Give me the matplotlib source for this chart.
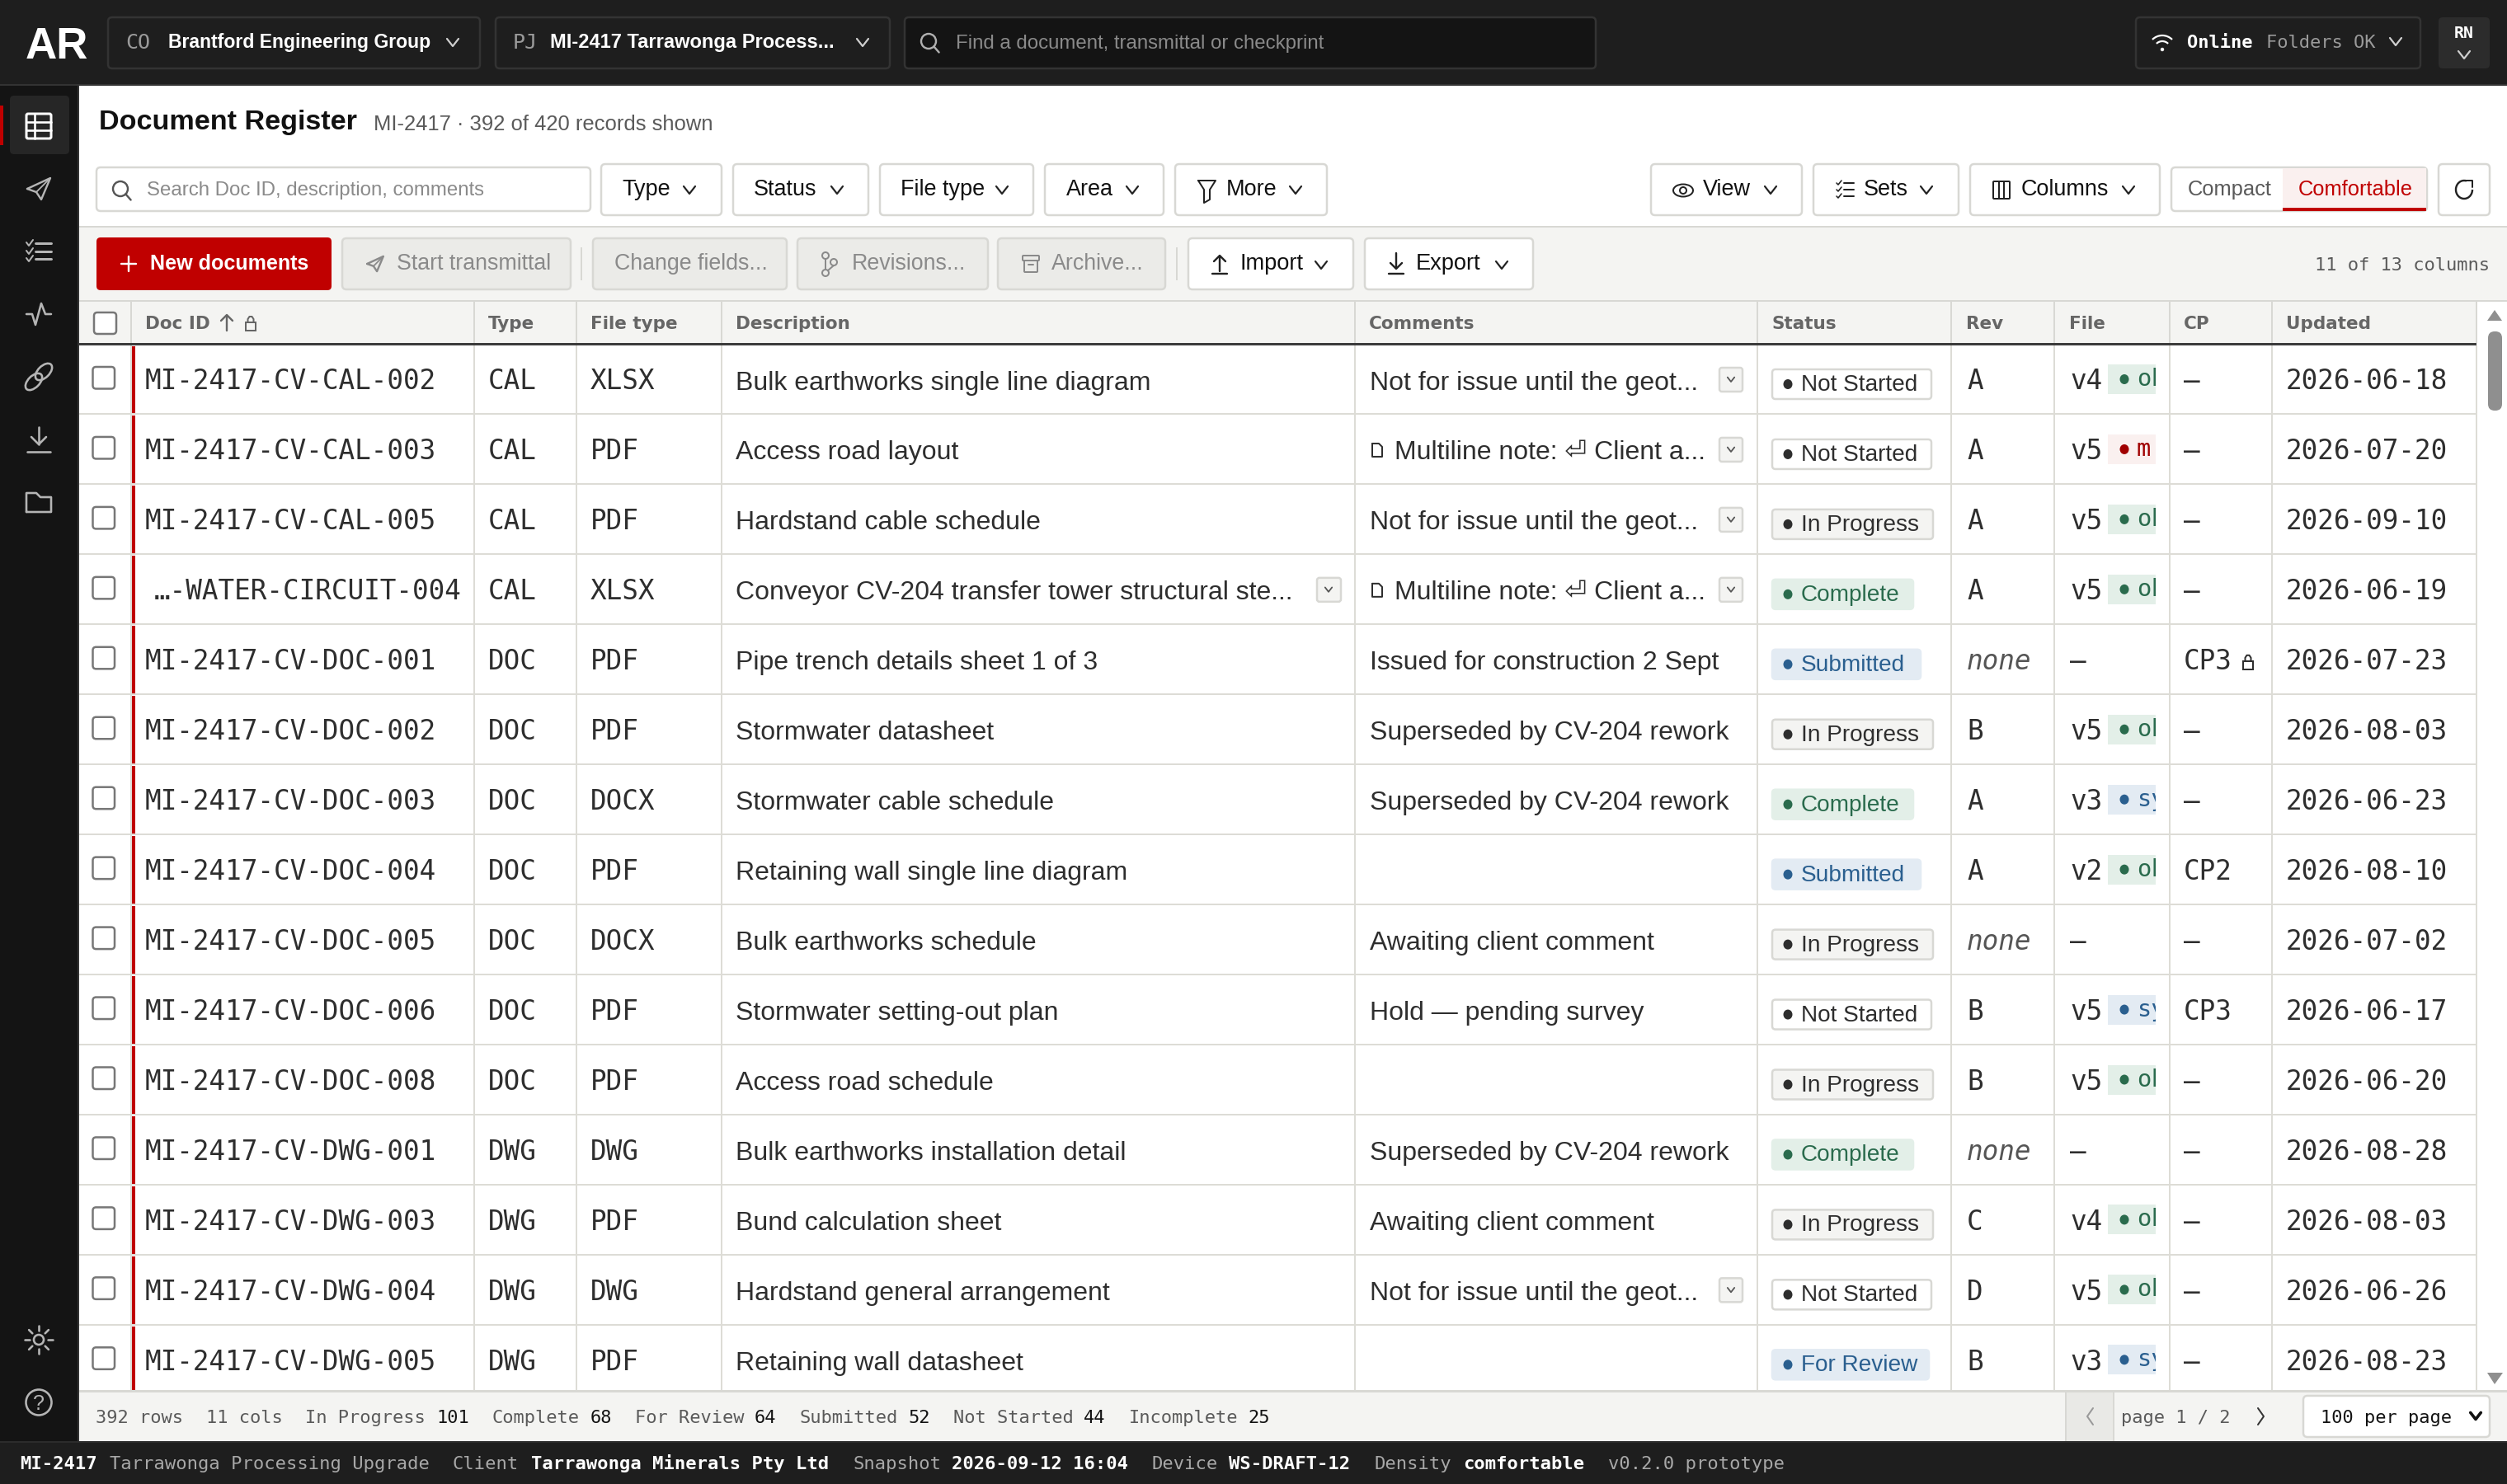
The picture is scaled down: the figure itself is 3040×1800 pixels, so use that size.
import matplotlib
matplotlib.use('Agg')
import matplotlib.pyplot as plt
from matplotlib.patches import FancyBboxPatch, Rectangle, Circle, Ellipse, Polygon, Arc

# table content
doc_ids = ['MI-2417-CV-CAL-002', 'MI-2417-CV-CAL-003', 'MI-2417-CV-CAL-005', '…-WATER-CIRCUIT-004',
           'MI-2417-CV-DOC-001', 'MI-2417-CV-DOC-002', 'MI-2417-CV-DOC-003', 'MI-2417-CV-DOC-004',
           'MI-2417-CV-DOC-005', 'MI-2417-CV-DOC-006', 'MI-2417-CV-DOC-008', 'MI-2417-CV-DWG-001',
           'MI-2417-CV-DWG-003', 'MI-2417-CV-DWG-004', 'MI-2417-CV-DWG-005']
doc_types = ['CAL', 'CAL', 'CAL', 'CAL', 'DOC', 'DOC', 'DOC', 'DOC', 'DOC', 'DOC', 'DOC', 'DWG', 'DWG', 'DWG', 'DWG']
file_types = ['XLSX', 'PDF', 'PDF', 'XLSX', 'PDF', 'PDF', 'DOCX', 'PDF', 'DOCX', 'PDF', 'PDF', 'DWG', 'PDF', 'DWG', 'PDF']
descriptions = ['Bulk earthworks single line diagram', 'Access road layout', 'Hardstand cable schedule',
                'Conveyor CV-204 transfer tower structural ste...', 'Pipe trench details sheet 1 of 3',
                'Stormwater datasheet', 'Stormwater cable schedule', 'Retaining wall single line diagram',
                'Bulk earthworks schedule', 'Stormwater setting-out plan', 'Access road schedule',
                'Bulk earthworks installation detail', 'Bund calculation sheet', 'Hardstand general arrangement',
                'Retaining wall datasheet']
NOTE_GEOT = 'Not for issue until the geot...'
NOTE_MULTI = 'Multiline note: ⏎ Client a...'
NOTE_SUPER = 'Superseded by CV-204 rework'
comments = [NOTE_GEOT, NOTE_MULTI, NOTE_GEOT, NOTE_MULTI, 'Issued for construction 2 Sept', NOTE_SUPER, NOTE_SUPER,
            '', 'Awaiting client comment', 'Hold — pending survey', '', NOTE_SUPER, 'Awaiting client comment',
            NOTE_GEOT, '']
statuses = ['Not Started', 'Not Started', 'In Progress', 'Complete', 'Submitted', 'In Progress', 'Complete', 'Submitted',
            'In Progress', 'Not Started', 'In Progress', 'Complete', 'In Progress', 'Not Started', 'For Review']
revs = ['A', 'A', 'A', 'A', 'none', 'B', 'A', 'A', 'none', 'B', 'B', 'none', 'C', 'D', 'B']
file_vers = ['v4', 'v5', 'v5', 'v5', '—', 'v5', 'v3', 'v2', '—', 'v5', 'v5', '—', 'v4', 'v5', 'v3']
# only what shows inside the clipped badge
file_states = ['ok', 'm', 'ok', 'ok', '', 'ok', 'sy', 'ok', '', 'sy', 'ok', '', 'ok', 'ok', 'sy']
checkprints = ['—', '—', '—', '—', 'CP3', '—', '—', 'CP2', '—', 'CP3', '—', '—', '—', '—', '—']
cp_locked = [False, False, False, False, True, False, False, False, False, False, False, False, False, False, False]
updated = ['2026-06-18', '2026-07-20', '2026-09-10', '2026-06-19', '2026-07-23', '2026-08-03', '2026-06-23', '2026-08-10',
           '2026-07-02', '2026-06-17', '2026-06-20', '2026-08-28', '2026-08-03', '2026-06-26', '2026-08-23']

# status bar and footer
count_names = ['In Progress', 'Complete', 'For Review', 'Submitted', 'Not Started', 'Incomplete']
count_values = [101, 68, 64, 52, 44, 25]
footer_parts = [('MI-2417', True, 24), ('Tarrawonga Processing Upgrade', False, 133), ('Client', False, 549),
                ('Tarrawonga Minerals Pty Ltd', True, 644), ('Snapshot', False, 1034), ('2026-09-12 16:04', True, 1154),
                ('Device', False, 1397), ('WS-DRAFT-12', True, 1490), ('Density', False, 1666),
                ('comfortable', True, 1774), ('v0.2.0 prototype', False, 1950)]

# column lines and header labels
col_lines = [159, 575, 699, 875, 1643, 2131, 2366, 2491, 2631, 2755, 3003]
col_names = ['Doc ID', 'Type', 'File type', 'Description', 'Comments', 'Status', 'Rev', 'File', 'CP', 'Updated']
col_text_x = [176, 592, 716, 892, 1660, 2148, 2384, 2509, 2648, 2772]

# colours
TOP = '#1e1e1e'
SIDE = '#141414'
LINE = '#dddcd6'
PANEL = '#f4f4f2'
RED = '#c00000'
INK = '#111111'
CELL = '#2e2e2e'
GREY = '#8a8a8a'
MID = '#5a5a5a'
pill_styles = {'Not Started': ('#ffffff', '#d8d8d4', '#2e2e2e', 193),
               'In Progress': ('#f4f4f2', '#d8d8d4', '#2e2e2e', 195),
               'Complete': ('#e3efe8', '#e3efe8', '#2a6b4d', 171),
               'Submitted': ('#e3ebf3', '#e3ebf3', '#2a5f8f', 180),
               'For Review': ('#e3ebf3', '#e3ebf3', '#2a5f8f', 190)}
file_styles = {'ok': ('#e3efe8', '#2a6b4d'), 'sy': ('#e3ebf3', '#2a5f8f'), 'm': ('#faf0ef', '#a00000')}

SANS = ['Liberation Sans', 'DejaVu Sans']
MONO = ['DejaVu Sans Mono']
PT = 0.36  # 1 px of the picture in points at dpi 200

fig = plt.figure(figsize=(15.2, 9), dpi=200, facecolor='white')
ax = fig.add_axes([0, 0, 1, 1])
ax.set_xlim(0, 3040)
ax.set_ylim(1800, 0)
ax.axis('off')


def rect(x0, y0, x1, y1, color):
    ax.add_patch(Rectangle((x0, y0), x1 - x0, y1 - y0, facecolor=color, edgecolor='none'))


def box(x0, y0, x1, y1, face, edge=None, r=5, lw=2.5):
    p = FancyBboxPatch((x0, y0), x1 - x0, y1 - y0, boxstyle='round,pad=0,rounding_size=%g' % r,
                       facecolor=face, edgecolor=edge or 'none', linewidth=lw * PT)
    ax.add_patch(p)
    return p


def line(pts, color, lw=2.4, closed=False):
    if closed:
        pts = list(pts) + [pts[0]]
    ax.plot([p[0] for p in pts], [p[1] for p in pts], color=color, lw=lw * PT,
            solid_capstyle='round', solid_joinstyle='round')


def label(x, y, s, px, color=INK, font=SANS, **kw):
    return ax.text(x, y, s, fontsize=px * PT, color=color, family=font, va='baseline', ha=kw.pop('ha', 'left'), **kw)


def chevron(x, y, color, s=1.0, lw=2.2):
    line([(x - 7 * s, y - 4 * s), (x, y + 5 * s), (x + 7 * s, y - 4 * s)], color, lw)


def search_icon(x, y, color, r=9):
    ax.add_patch(Circle((x, y), r, fill=False, edgecolor=color, linewidth=2.4 * PT))
    line([(x + r * 0.7, y + r * 0.7), (x + r * 1.4, y + r * 1.5)], color)


def send_icon(x, y, color, s=1.0):
    line([(x - 14 * s, y), (x + 14 * s, y - 13 * s), (x + 3 * s, y + 13 * s), (x - 3 * s, y + 4 * s)], color, closed=True)
    line([(x - 3 * s, y + 4 * s), (x + 14 * s, y - 13 * s)], color, 1.8)


def lock_icon(x, y, color):
    ax.add_patch(Rectangle((x - 6, y - 1), 12, 10, fill=False, edgecolor=color, linewidth=2 * PT))
    line([(x - 3.5, y - 1), (x - 3.5, y - 5), (x - 1.5, y - 8), (x + 1.5, y - 8), (x + 3.5, y - 5), (x + 3.5, y - 1)], color, 2)


def arrow_icon(x, y, color, up, bar=True):
    d = -1 if up else 1
    line([(x, y - 11 * d), (x, y + 7 * d)], color)
    line([(x - 7, y + 1 * d), (x, y + 8 * d), (x + 7, y + 1 * d)], color)
    if bar:
        line([(x - 9, y + 14), (x + 9, y + 14)], color)


def doc_icon(x, y, color):
    line([(x - 6, y - 8), (x + 2, y - 8), (x + 6, y - 4), (x + 6, y + 8), (x - 6, y + 8)], color, 2, closed=True)


# dark frame
rect(0, 0, 3040, 102, TOP)
rect(0, 102, 3040, 104, '#333333')
rect(0, 104, 96, 1748, SIDE)
rect(94, 104, 96, 1748, '#333333')
rect(0, 1748, 3040, 1800, TOP)
rect(0, 1748, 3040, 1750, '#2c2c2c')

# top bar
label(31, 71, 'AR', 53, 'white', weight='bold')
box(131, 21, 582, 83, TOP, '#333333')
label(152, 59, 'CO', 25, '#9a9a9a', MONO)
label(204, 58, 'Brantford Engineering Group', 23, 'white', weight='bold')
chevron(549, 51, '#d0d0d0')
box(601, 21, 1079, 83, TOP, '#333333')
label(622, 59, 'PJ', 25, '#9a9a9a', MONO)
label(667, 58, 'MI-2417 Tarrawonga Process...', 23.6, 'white', weight='bold')
chevron(1046, 51, '#d0d0d0')
box(1097, 21, 1935, 83, '#141414', '#333333')
search_icon(1126, 50, '#b0b0b0')
label(1159, 59, 'Find a document, transmittal or checkprint', 24, GREY)
box(2590, 21, 2935, 83, TOP, '#333333')
for diam in (34, 20):
    ax.add_patch(Arc((2622, 60), diam, diam, theta1=225, theta2=315, edgecolor='white', linewidth=2.2 * PT))
ax.add_patch(Circle((2622, 60), 2.2, facecolor='white', edgecolor='none'))
label(2652, 58, 'Online', 22, 'white', MONO, weight='bold')
label(2748, 58, 'Folders OK', 22, '#9a9a9a', MONO)
chevron(2905, 50, '#d0d0d0')
box(2957, 21, 3019, 83, '#2c2c2c', None)
label(2988, 46, 'RN', 20, 'white', MONO, weight='bold', ha='center')
chevron(2988, 66, '#d0d0d0')

# side bar
box(12, 116, 84, 187, '#262626')
rect(0, 128, 4, 176, RED)
box(32, 138, 62, 168, 'none', 'white', r=2, lw=3)
line([(42, 138), (42, 168)], 'white', 2.6)
line([(32, 148), (62, 148)], 'white', 2.6)
line([(32, 158), (62, 158)], 'white', 2.6)
ICON = '#b5b5b5'
send_icon(47, 229, ICON)
for yy in (295, 305, 314):
    line([(43, yy), (62, yy)], ICON, 3)
    line([(32, yy - 1), (35, yy + 3), (40, yy - 4)], ICON, 2)
line([(32, 381), (39, 381), (43, 394), (50, 368), (55, 381), (62, 381)], ICON, 2.6)
for cx, cy in [(41, 463), (53, 451)]:
    ax.add_patch(Ellipse((cx, cy), 25, 14, angle=-45, fill=False, edgecolor=ICON, linewidth=2.6 * PT))
line([(47, 518), (47, 539)], ICON, 2.6)
line([(38, 530), (47, 539), (56, 530)], ICON, 2.6)
line([(33, 548), (61, 548)], ICON, 2.6)
line([(32, 621), (32, 598), (44, 598), (49, 603), (62, 603), (62, 621)], ICON, 2.6, closed=True)
ax.add_patch(Circle((47, 1625), 6, fill=False, edgecolor=ICON, linewidth=2.6 * PT))
for dx, dy in [(0, 1), (0, -1), (1, 0), (-1, 0), (.7, .7), (-.7, .7), (.7, -.7), (-.7, -.7)]:
    line([(47 + 11 * dx, 1625 + 11 * dy), (47 + 17 * dx, 1625 + 17 * dy)], ICON, 2.6)
ax.add_patch(Circle((47, 1701), 15.5, fill=False, edgecolor=ICON, linewidth=2.6 * PT))
label(47, 1710, '?', 25, ICON, ha='center')

# title and filter row
label(120, 157, 'Document Register', 34.2, INK, weight='bold')
label(453, 158, 'MI-2417 · 392 of 420 records shown', 25.6, MID)
box(117, 203, 716, 256, 'white', '#d8d8d4')
search_icon(146, 229, '#555555')
label(178, 237, 'Search Doc ID, description, comments', 24, GREY)

filters = [('Type', 729, 875, 754, 836), ('Status', 889, 1053, 914, 1015), ('File type', 1067, 1253, 1092, 1215),
           ('Area', 1267, 1411, 1293, 1373), ('More', 1425, 1609, 1487, 1571), ('View', 2002, 2185, 2065, 2147),
           ('Sets', 2199, 2375, 2260, 2336), ('Columns', 2389, 2619, 2451, 2581)]
for name, x0, x1, tx, cx in filters:
    box(x0, 199, x1, 261, 'white', '#d8d8d4')
    label(tx, 237, name, 27, INK)
    chevron(cx, 230, '#222222')
line([(1453, 219), (1474, 219), (1467, 230), (1467, 242), (1460, 246), (1460, 230)], '#222222', 2, closed=True)
ax.add_patch(Ellipse((2041, 231), 24, 15, fill=False, edgecolor='#222222', linewidth=2 * PT))
ax.add_patch(Circle((2041, 231), 4, fill=False, edgecolor='#222222', linewidth=2 * PT))
for yy in (222, 230, 238):
    line([(2236, yy), (2248, yy)], '#222222', 2)
    line([(2227, yy), (2229, yy + 2), (2233, yy - 3)], '#222222', 1.6)
box(2417, 220, 2437, 241, 'none', '#222222', r=1, lw=2)
line([(2424, 220), (2424, 241)], '#222222', 2)
line([(2430, 220), (2430, 241)], '#222222', 2)

box(2633, 203, 2943, 256, 'white', '#d8d8d4')
rect(2768, 204, 2942, 252, '#faf0ef')
rect(2768, 252, 2942, 256, RED)
label(2653, 237, 'Compact', 25.5, MID)
label(2787, 237, 'Comfortable', 25.5, RED)
box(2957, 199, 3019, 261, 'white', '#d8d8d4')
ax.add_patch(Arc((2988, 230), 20, 22, theta1=0, theta2=285, edgecolor='#222222', linewidth=2.4 * PT))
line([(2989, 219), (2998, 219), (2998, 227)], '#222222', 2)

# action row
rect(96, 274, 3040, 276, '#d8d8d4')
rect(96, 276, 3040, 416, PANEL)
rect(96, 364, 3040, 366, '#d8d8d4')
box(117, 288, 402, 352, RED, None)
line([(147, 320), (165, 320)], 'white', 2.4)
line([(156, 311), (156, 329)], 'white', 2.4)
label(182, 327, 'New documents', 25.2, 'white', weight='bold')
disabled = [('Start transmittal', 415, 692, 481), ('Change fields...', 719, 954, 745), ('Revisions...', 967, 1198, 1033),
            ('Archive...', 1210, 1413, 1275)]
for name, x0, x1, tx in disabled:
    box(x0, 289, x1, 351, '#ebebe8', '#d8d8d4')
    label(tx, 327, name, 26.8, GREY)
send_icon(455, 320, GREY, 0.7)
ax.add_patch(Circle((1001, 310), 4, fill=False, edgecolor=GREY, linewidth=2 * PT))
ax.add_patch(Circle((1011, 318), 4, fill=False, edgecolor=GREY, linewidth=2 * PT))
ax.add_patch(Circle((1001, 331), 4, fill=False, edgecolor=GREY, linewidth=2 * PT))
line([(1001, 314), (1001, 327)], GREY, 2)
line([(1011, 322), (1004, 328)], GREY, 2)
box(1240, 310, 1260, 316, 'none', GREY, r=1, lw=2)
box(1242, 316, 1258, 330, 'none', GREY, r=1, lw=2)
line([(1247, 321), (1253, 321)], GREY, 2)
rect(704, 300, 706, 340, '#d8d8d4')
rect(1426, 300, 1428, 340, '#d8d8d4')
for name, x0, x1, tx, cx, up, ic in [('Import', 1441, 1641, 1503, 1602, True, 1479), ('Export', 1655, 1859, 1717, 1821, False, 1693)]:
    box(x0, 289, x1, 351, 'white', '#d8d8d4')
    label(tx, 327, name, 27.3, INK)
    chevron(cx, 321, '#222222')
    arrow_icon(ic, 318, '#222222', up)
label(3019, 328, '11 of 13 columns', 22, MID, MONO, ha='right')

# table header
rect(96, 366, 3003, 416, PANEL)
rect(96, 416, 3003, 419, '#3c3c3c')
rect(3003, 366, 3040, 1688, 'white')
for x in col_lines:
    rect(x - 1, 366, x + 1, 416, '#d8d8d4')
box(114, 379, 141, 405, 'white', '#777777', r=4)
for name, x in zip(col_names, col_text_x):
    label(x, 399, name, 21.5, '#666666', ['DejaVu Sans'], weight='bold')
arrow_icon(275, 390, '#666666', True, bar=False)
lock_icon(304, 392, '#666666')

# rows
ROW_H = 84.95
for i in range(len(doc_ids)):
    top = 418 + i * ROW_H
    base = top + 54.5
    rect(160, top + 1.5, 164, top + ROW_H - 1, RED)
    rect(96, top + ROW_H - 1.5, 3003, top + ROW_H + 0.5, LINE)
    box(112.5, top + 27, 139, top + 53.5, 'white', '#777777', r=4)

    label(187 if doc_ids[i].startswith('…') else 176, base, doc_ids[i], 32.7, CELL, MONO)
    label(592, base, doc_types[i], 32.7, CELL, MONO)
    label(716, base, file_types[i], 32.7, CELL, MONO)
    label(892, base, descriptions[i], 32, CELL)
    if descriptions[i].endswith('...'):
        box(1597, top + 28, 1626, top + 57, PANEL, '#d8d8d4', r=3)
        chevron(1611, top + 42, '#555555', 0.6, 1.8)

    note = comments[i]
    if note == NOTE_MULTI:
        doc_icon(1670, top + 43, CELL)
        label(1691, base, note, 32, CELL)
    elif note:
        label(1661, base, note, 32, CELL)
    if note.endswith('...'):
        box(2085, top + 28, 2113, top + 57, PANEL, '#d8d8d4', r=3)
        chevron(2099, top + 42, '#555555', 0.6, 1.8)

    face, edge, ink, width = pill_styles[statuses[i]]
    box(2149, top + 30, 2149 + width, top + 66, face, edge, r=4)
    ax.add_patch(Ellipse((2168, top + 48), 11, 12, facecolor=ink, edgecolor='none'))
    label(2184, top + 56, statuses[i], 28, ink)

    if revs[i] == 'none':
        label(2385, base, 'none', 32.7, '#555555', MONO, style='italic')
    else:
        label(2385, base, revs[i], 32.7, CELL, MONO)
    label(2510, base, file_vers[i], 32.7, CELL, MONO)
    if file_states[i]:
        face, ink = file_styles[file_states[i]]
        clip = Rectangle((2556, top + 24), 58, 36, facecolor=face, edgecolor='none')
        ax.add_patch(clip)
        ax.add_patch(Ellipse((2576, top + 42), 11, 12, facecolor=ink, edgecolor='none'))
        t = label(2591, top + 50, file_states[i], 28.7, ink, MONO)
        t.set_clip_on(True)
        t.set_clip_path(clip)
    label(2648, base, checkprints[i], 32.7, CELL, MONO)
    if cp_locked[i]:
        lock_icon(2726, top + 45, CELL)
    label(2772, base, updated[i], 32.7, CELL, MONO)

for x in col_lines:
    rect(x - 1, 419, x + 1, 1688, LINE)

# scroll bar
ax.add_patch(Polygon([(3025, 376), (3034, 389), (3016, 389)], facecolor='#8f8f8f', edgecolor='none'))
box(3017, 402, 3034, 498, '#8f8f8f', None, r=8)
ax.add_patch(Polygon([(3016, 1665), (3035, 1665), (3025, 1679)], facecolor='#8f8f8f', edgecolor='none'))

# status bar
rect(96, 1686, 3040, 1748, PANEL)
rect(96, 1686, 3040, 1689, '#d8d8d4')
BASE = 1726
CH = 13.2
label(116.5, BASE, '392 rows', 22, MID, MONO)
label(250.5, BASE, '11 cols', 22, MID, MONO)
xpos = 370.5
for name, val in zip(count_names, count_values):
    label(xpos, BASE, name, 22, MID, MONO)
    xpos += (len(name) + 1) * CH
    label(xpos, BASE, str(val), 22, INK, MONO)
    xpos += len(str(val)) * CH + 28
rect(2505, 1689, 2563, 1748, '#e9e9e6')
rect(2504, 1689, 2506, 1748, '#d8d8d4')
rect(2562, 1689, 2564, 1748, '#d8d8d4')
line([(2538, 1708), (2531, 1718), (2538, 1728)], '#999999', 2)
label(2572.5, BASE, 'page 1 / 2', 22, MID, MONO)
line([(2738, 1708), (2745, 1718), (2738, 1728)], '#333333', 2)
box(2793, 1693, 3019, 1743, 'white', '#d8d8d4')
label(2814, BASE, '100 per page', 22, INK, MONO)
chevron(3002, 1717, INK, 0.9, 3.6)

# footer
for text, strong, x in footer_parts:
    label(x, 1782, text, 22.2, 'white' if strong else '#a8a8a8', MONO, weight='bold' if strong else 'normal')

fig.savefig('out.png', dpi=200, facecolor='white')
